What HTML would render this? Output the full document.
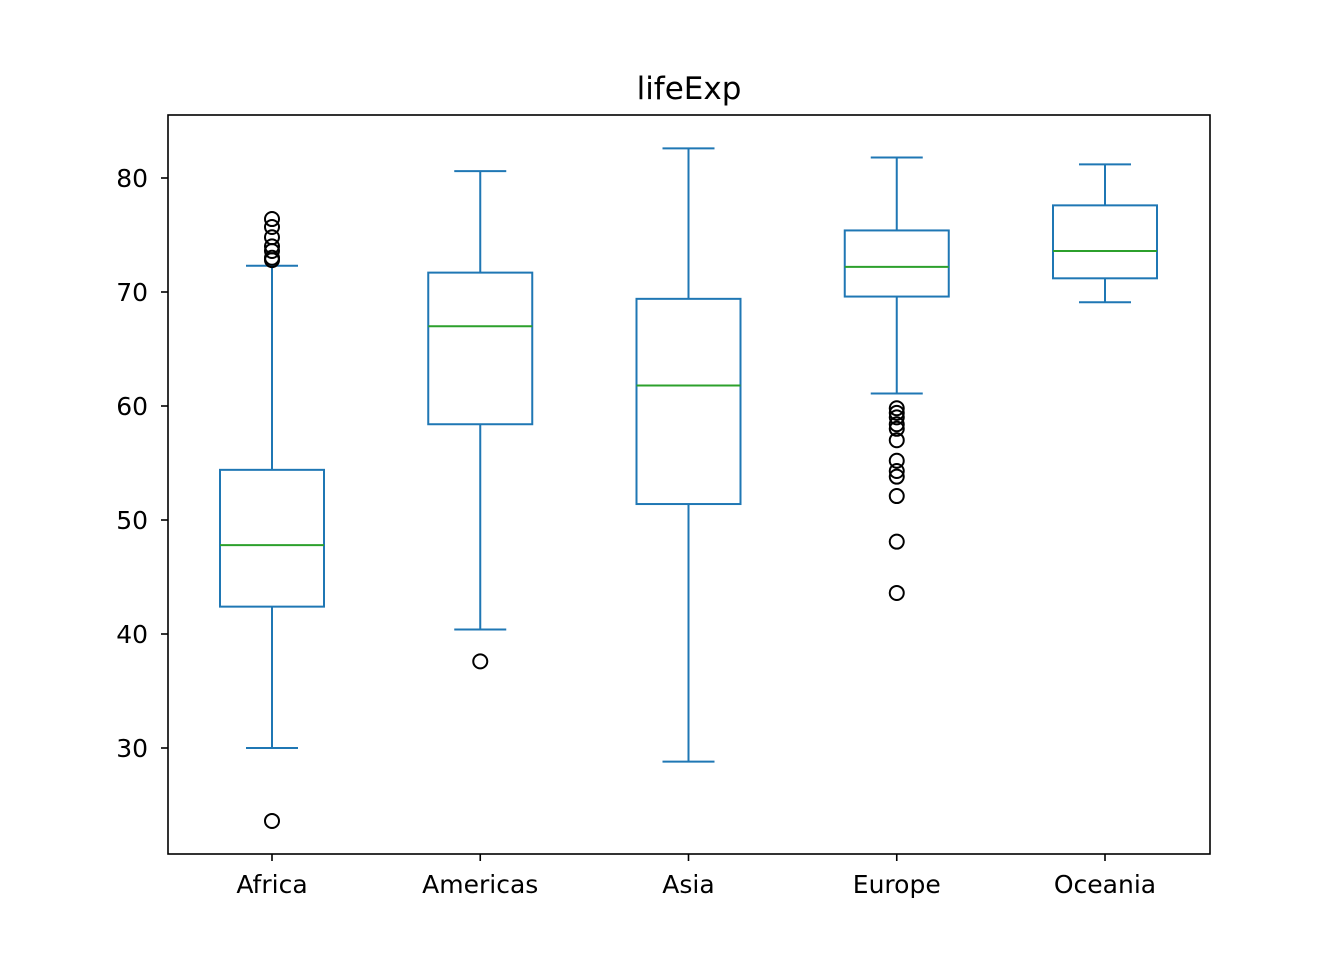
<!DOCTYPE html>
<html><head><meta charset="utf-8"><style>
body{margin:0;background:#fff}
svg text{font-family:"DejaVu Sans","Liberation Sans",sans-serif;fill:#000}
</style></head><body>
<svg id="chart" width="1344" height="960" xmlns="http://www.w3.org/2000/svg">
<rect width="1344" height="960" fill="#fff"/>
<text x="689" y="99" font-size="31" text-anchor="middle">lifeExp</text>
<g id="marks"></g>
<rect x="168" y="115" width="1042" height="739" fill="none" stroke="#000" stroke-width="1.6"/>
</svg>
<script>
const categories=["Africa","Americas","Asia","Europe","Oceania"];
const whiskerLow=[30.0,40.4,28.8,61.1,69.1];
const q1=[42.4,58.4,51.4,69.6,71.2];
const median=[47.8,67.0,61.8,72.2,73.6];
const q3=[54.4,71.7,69.4,75.4,77.6];
const whiskerHigh=[72.3,80.6,82.6,81.8,81.2];
const outliers=[[23.6,72.8,73.0,73.6,74.0,74.8,75.7,76.4],[37.6],[],[43.6,48.1,52.1,53.8,54.3,55.2,57.0,58.0,58.4,59.0,59.4,59.8],[]];
const yTicks=[30,40,50,60,70,80];

const NS="http://www.w3.org/2000/svg";
const g=document.getElementById('marks');
const y=v=>178+(80-v)*11.4;
const x=i=>272+i*208.25;
function mk(tag,attrs){const e=document.createElementNS(NS,tag);for(const k in attrs)e.setAttribute(k,attrs[k]);g.appendChild(e);return e;}
const blue="#1f77b4";
yTicks.forEach(t=>{
  const l=mk('line',{x1:161,x2:168,y1:y(t),y2:y(t),stroke:'#000','stroke-width':1.6});
  
  
  const tx=mk('text',{x:148,y:y(t)+9,'font-size':25,'text-anchor':'end'});tx.textContent=t;
  
  
});
categories.forEach((c,i)=>{
  const cx=x(i);
  const tk=mk('line',{x1:cx,x2:cx,y1:854,y2:861,stroke:'#000','stroke-width':1.6});
  
  
  const tl=mk('text',{x:cx,y:893,'font-size':25,'text-anchor':'middle'});tl.textContent=c;
  
  
  const s={stroke:blue,'stroke-width':2,fill:'none'};
  const w1=mk('line',{...s,x1:cx,x2:cx,y1:y(whiskerLow[i]),y2:y(q1[i])});
  
  
  const w2=mk('line',{...s,x1:cx,x2:cx,y1:y(q3[i]),y2:y(whiskerHigh[i])});
  
  
  const c1=mk('line',{...s,x1:cx-26,x2:cx+26,y1:y(whiskerLow[i]),y2:y(whiskerLow[i])});
  
  
  const c2=mk('line',{...s,x1:cx-26,x2:cx+26,y1:y(whiskerHigh[i]),y2:y(whiskerHigh[i])});
  
  
  const b=mk('rect',{...s,x:cx-52,width:104,y:y(q3[i]),height:y(q1[i])-y(q3[i])});
  
  
  const m=mk('line',{x1:cx-52,x2:cx+52,y1:y(median[i]),y2:y(median[i]),stroke:'#2ca02c','stroke-width':2});
  
  
  outliers[i].forEach(v=>{
    const o=mk('circle',{cx:cx,cy:y(v),r:7,fill:'none',stroke:'#000','stroke-width':2});
    
    
  });
});
</script>
</body></html>
